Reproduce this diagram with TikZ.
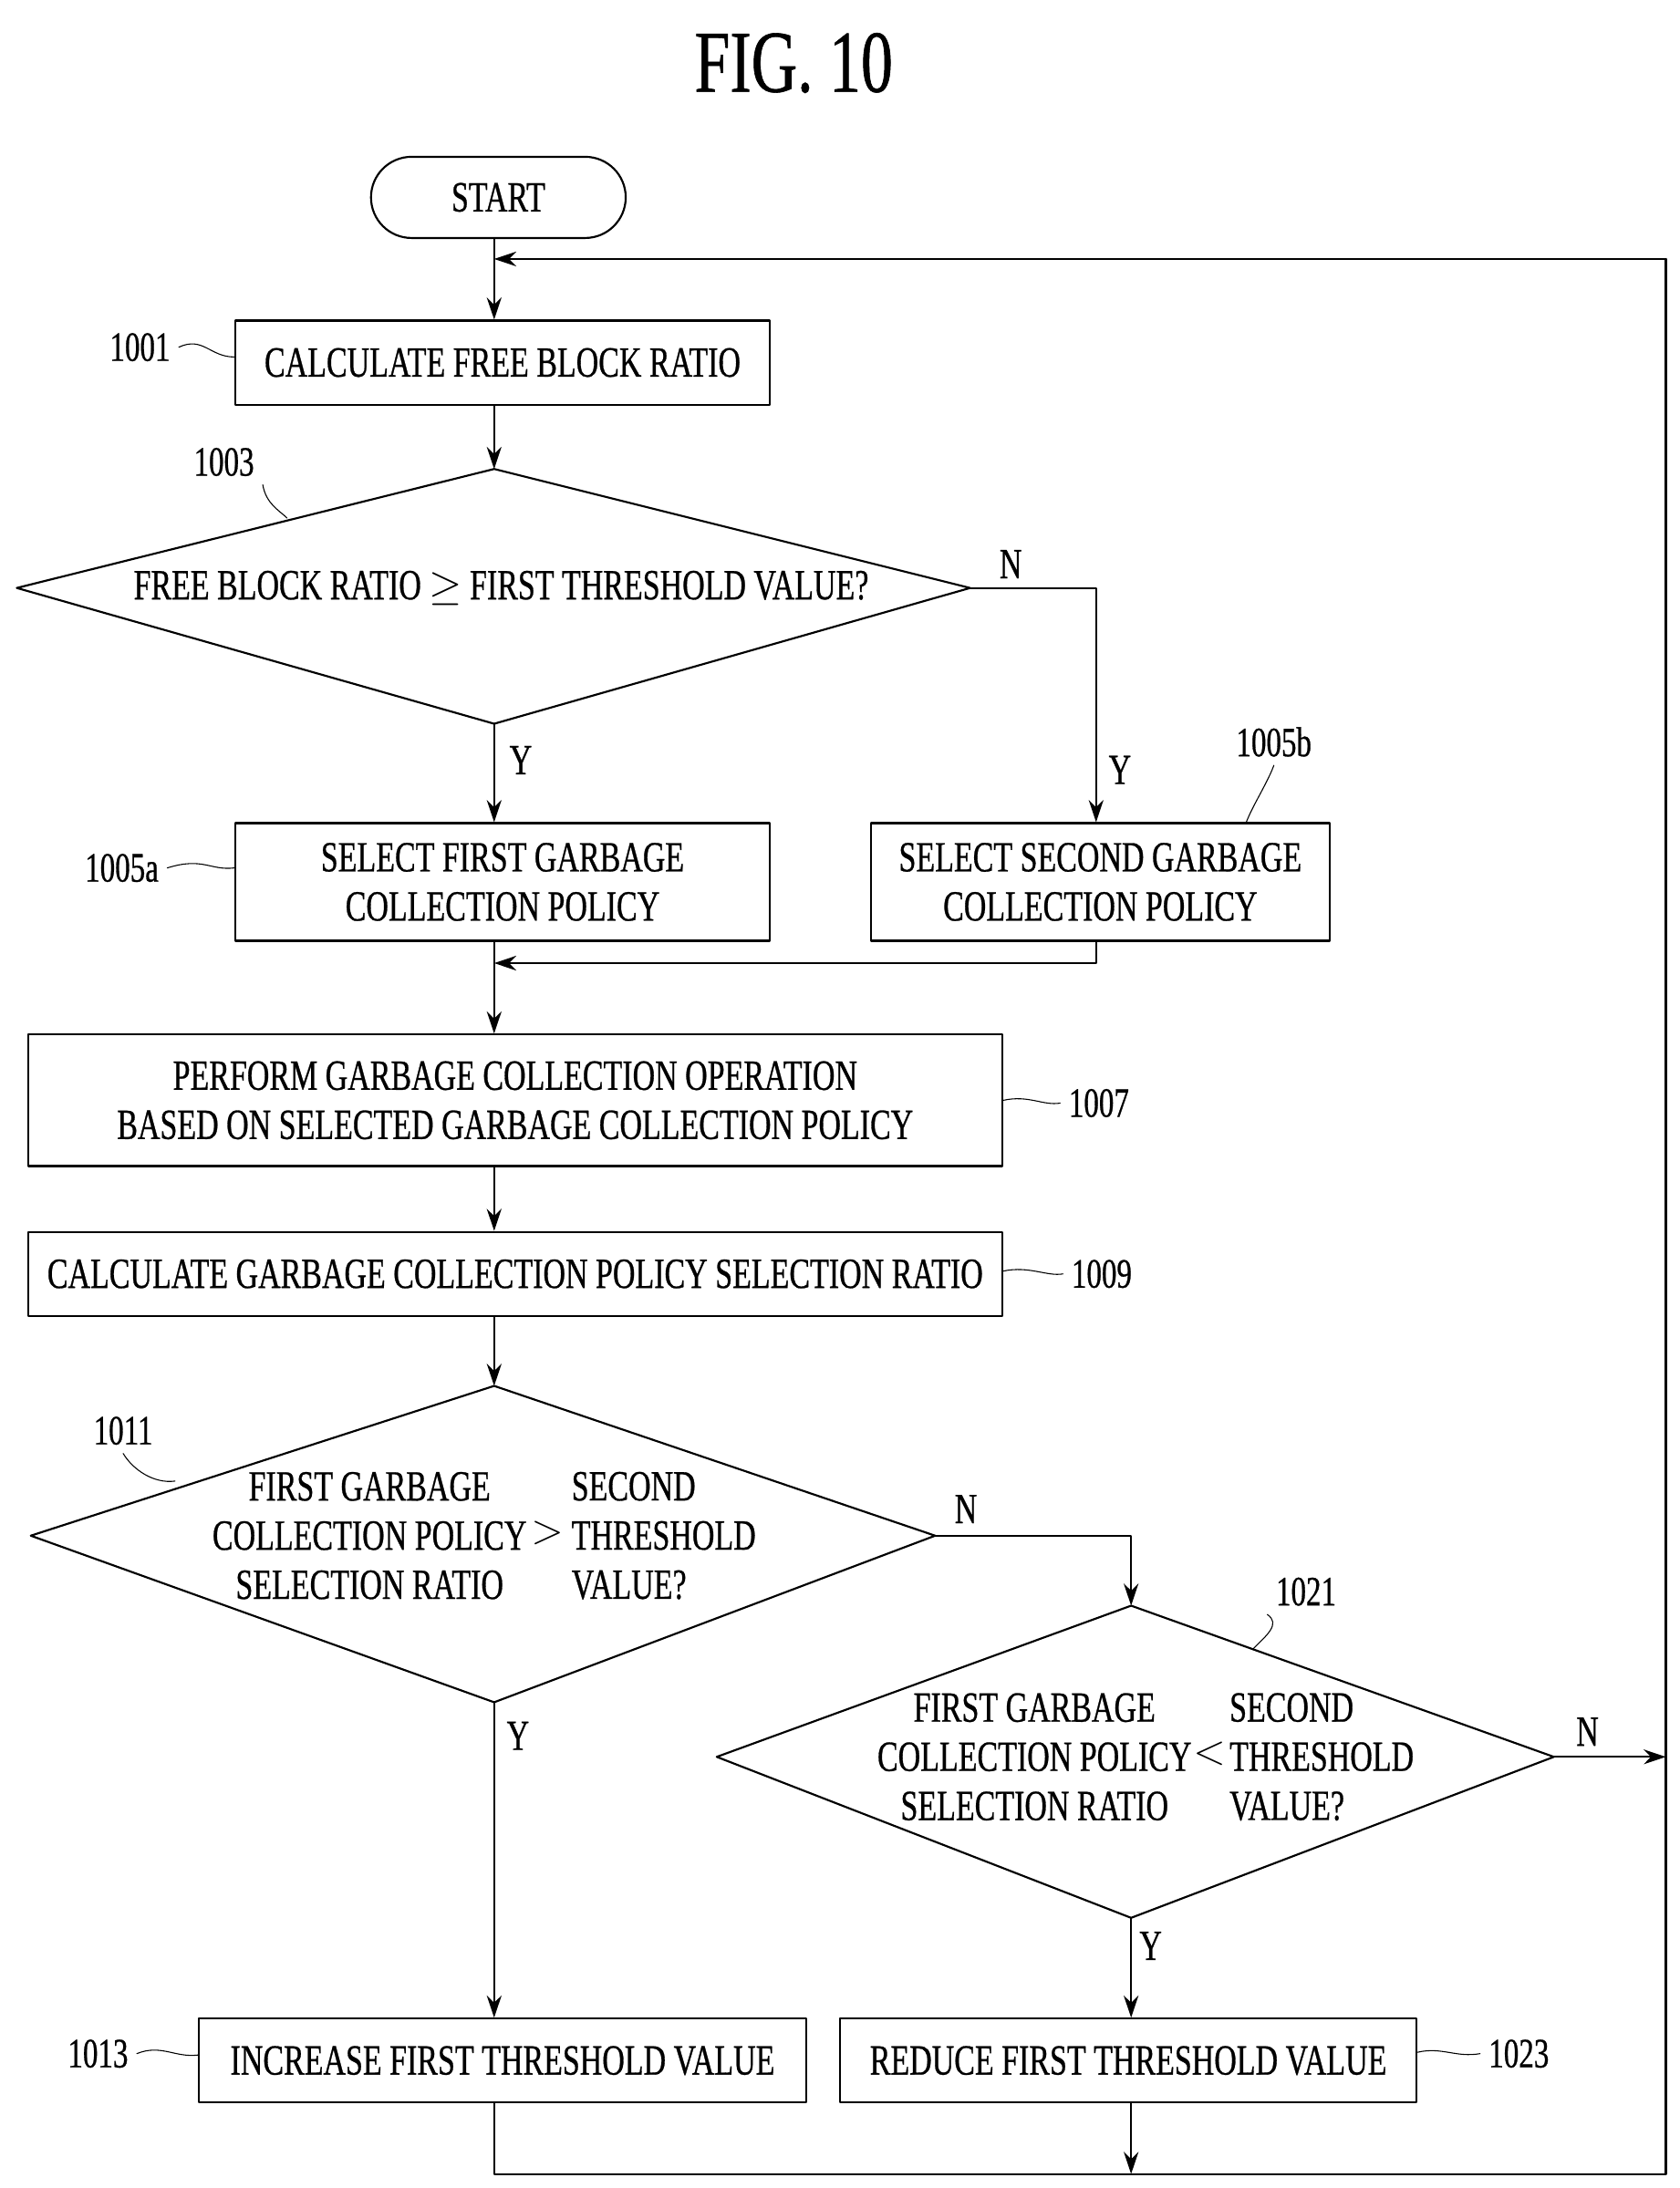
\documentclass[tikz,border=0pt]{standalone}
\usepackage{fontspec}
\setmainfont{Liberation Serif}[FakeStretch=0.72,FakeBold=0.6]
\usetikzlibrary{arrows.meta,positioning}
\tikzset{
  box/.style={draw,thick,minimum height=1.2cm,align=center,inner sep=2pt},
  flow/.style={thick,-{Stealth[length=9pt,width=6pt]}},
  line/.style={thick},
  cmp/.style={inner sep=0pt},
  ref/.style={font=\fontsize{17}{20}\selectfont},
  lead/.style={thin},
  every node/.style={font=\fontsize{17.5}{20}\selectfont}
}
\begin{document}
\begin{tikzpicture}[x=0.02cm,y=-0.02cm,line cap=round,line join=round]
  \useasboundingbox (0,0) rectangle (1200,1563);

  % title
  \node (title) at (567,45) {\fontsize{36}{40}\selectfont FIG. 10};

  % start
  \node[draw,thick,rounded corners=0.58cm,minimum width=3.64cm,minimum height=1.16cm]
    (start) at (356,141) {START};

  % boxes
  \node[box,minimum width=7.64cm] (s1001) at (359,259) {CALCULATE FREE BLOCK RATIO};
  \node[box,minimum width=7.64cm,minimum height=1.68cm] (s1005a) at (359,630)
    {SELECT FIRST GARBAGE\\COLLECTION POLICY};
  \node[box,minimum width=6.56cm,minimum height=1.68cm] (s1005b) at (786,630)
    {SELECT SECOND GARBAGE\\COLLECTION POLICY};
  \node[box,minimum width=13.92cm,minimum height=1.88cm] (s1007) at (368,786)
    {PERFORM GARBAGE COLLECTION OPERATION\\BASED ON SELECTED GARBAGE COLLECTION POLICY};
  \node[box,minimum width=13.92cm] (s1009) at (368,910)
    {CALCULATE GARBAGE COLLECTION POLICY SELECTION RATIO};
  \node[box,minimum width=8.68cm] (s1013) at (359,1472) {INCREASE FIRST THRESHOLD VALUE};
  \node[box,minimum width=8.24cm] (s1023) at (806,1472) {REDUCE FIRST THRESHOLD VALUE};

  % decision 1003
  \coordinate (d1003t) at (353,335);
  \coordinate (d1003b) at (353,517);
  \coordinate (d1003l) at (12,420);
  \coordinate (d1003r) at (693,420);
  \draw[line] (d1003t) -- (d1003r) -- (d1003b) -- (d1003l) -- cycle;
  \node (t1003) at (358,420) {FREE BLOCK RATIO $\geq$ FIRST THRESHOLD VALUE?};

  % decision 1011
  \coordinate (d1011t) at (353,990);
  \coordinate (d1011b) at (353,1216);
  \coordinate (d1011l) at (22,1097);
  \coordinate (d1011r) at (668,1097);
  \draw[line] (d1011t) -- (d1011r) -- (d1011b) -- (d1011l) -- cycle;
  \node[align=center,inner sep=0pt] (t1011a) at (264,1097) {FIRST GARBAGE\\COLLECTION POLICY\\SELECTION RATIO};
  \node[cmp] (t1011b) at (391,1095) {$>$};
  \node[align=left,anchor=west,inner sep=0pt] (t1011c) at (408,1097) {SECOND\\THRESHOLD\\VALUE?};

  % decision 1021
  \coordinate (d1021t) at (808,1147);
  \coordinate (d1021b) at (808,1370);
  \coordinate (d1021l) at (512,1255);
  \coordinate (d1021r) at (1110,1255);
  \draw[line] (d1021t) -- (d1021r) -- (d1021b) -- (d1021l) -- cycle;
  \node[align=center,inner sep=0pt] (t1021a) at (739,1255) {FIRST GARBAGE\\COLLECTION POLICY\\SELECTION RATIO};
  \node[cmp] (t1021b) at (864,1253) {$<$};
  \node[align=left,anchor=west,inner sep=0pt] (t1021c) at (878,1255) {SECOND\\THRESHOLD\\VALUE?};

  % loop corners
  \coordinate (loopin) at (353,185);
  \coordinate (looptr) at (1190,185);
  \coordinate (loopbr) at (1190,1553);
  \coordinate (loopmid) at (1190,1255);
  \coordinate (loopbl) at (353,1553);
  \coordinate (loopend) at (808,1553);
  \coordinate (merge) at (353,688);
  \coordinate (nturn) at (783,420);
  \coordinate (nturn2) at (808,1097);

  % connectors
  \draw[flow] (start.south -| merge) -- (s1001.north -| merge);
  \draw[flow] (s1001.south -| merge) -- (d1003t);
  \draw[flow] (d1003b) -- (s1005a.north -| d1003b);
  \draw[flow] (d1003r) -- (nturn) -- (s1005b.north -| nturn);
  \draw[line] (s1005a.south -| merge) -- (merge);
  \draw[flow] (s1005b.south -| nturn) -- (nturn |- merge) -- (merge);
  \draw[flow] (merge) -- (s1007.north -| merge);
  \draw[flow] (s1007.south -| merge) -- (s1009.north -| merge);
  \draw[flow] (s1009.south -| merge) -- (d1011t);
  \draw[flow] (d1011b) -- (s1013.north -| d1011b);
  \draw[flow] (d1011r) -- (nturn2) -- (d1021t);
  \draw[flow] (d1021b) -- (s1023.north -| d1021b);
  \draw[flow] (d1021r) -- (loopmid);
  \draw[line] (s1013.south -| loopbl) -- (loopbl) -- (loopbr) -- (looptr);
  \draw[flow] (looptr) -- (loopin);
  \draw[flow] (s1023.south -| loopend) -- (loopend);

  % branch labels
  \node (n1003) at (722,403) {N};
  \node (y1003) at (372,543) {Y};
  \node (y1005b) at (800,550) {Y};
  \node (n1011) at (690,1078) {N};
  \node (y1011) at (370,1240) {Y};
  \node (n1021) at (1134,1237) {N};
  \node (y1021) at (822,1390) {Y};

  % reference numerals
  \node[ref] (r1001) at (100,248) {1001};
  \node[ref] (r1003) at (160,330) {1003};
  \node[ref] (r1005a) at (87,620) {1005a};
  \node[ref] (r1005b) at (910,530) {1005b};
  \node[ref] (r1007) at (785,788) {1007};
  \node[ref] (r1009) at (787,910) {1009};
  \node[ref] (r1011) at (88,1022) {1011};
  \node[ref] (r1021) at (933,1137) {1021};
  \node[ref] (r1013) at (70,1467) {1013};
  \node[ref] (r1023) at (1085,1467) {1023};

  % leaders
  \draw[lead] (r1001.east) .. controls (145,240) and (150,255) .. (s1001.west |- 0,255);
  \draw[lead] (r1003.south east) .. controls (190,360) and (200,365) .. (205,370);
  \draw[lead] (r1005a.east) .. controls (145,612) and (150,622) .. (s1005a.west |- 0,620);
  \draw[lead] (r1005b.south) .. controls (905,560) and (895,575) .. (890,588);
  \draw[lead] (r1007.west) .. controls (745,790) and (735,782) .. (s1007.east |- 0,786);
  \draw[lead] (r1009.west) .. controls (748,912) and (735,904) .. (s1009.east |- 0,908);
  \draw[lead] (r1011.south) .. controls (95,1050) and (110,1060) .. (125,1058);
  \draw[lead] (r1021.south west) .. controls (915,1160) and (905,1168) .. (895,1178);
  \draw[lead] (r1013.east) .. controls (115,1460) and (125,1470) .. (s1013.west |- 0,1468);
  \draw[lead] (r1023.west) .. controls (1040,1470) and (1030,1462) .. (s1023.east |- 0,1466);
\end{tikzpicture}
\end{document}
